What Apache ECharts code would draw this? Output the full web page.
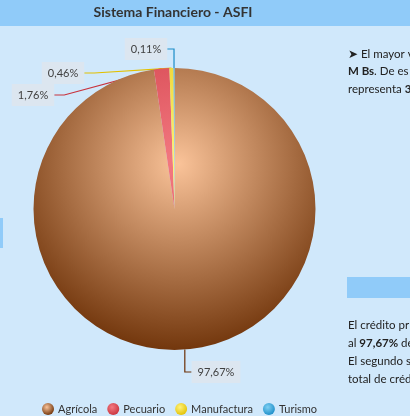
<!DOCTYPE html>
<html>
<head>
<meta charset="utf-8">
<script src="https://cdn.jsdelivr.net/npm/echarts@6/dist/echarts.min.js"></script>
<style>
  html, body { margin: 0; padding: 0; background: #d0e8fb; }
  #chart { width: 410px; height: 416px; }
</style>
</head>
<body>
<div id="chart"></div>
<script>
// Cartera por sector productivo (participación %)
const categories = ['Agrícola', 'Pecuario', 'Manufactura', 'Turismo'];
const shares = [97.67, 1.76, 0.46, 0.11];
const titleText = 'Sistema Financiero - ASFI';

const FONT = 'Lato, "Open Sans", sans-serif';
const CX = 174.5, CY = 209, R = 141;

// radial shading for each slice: [light, dark]
const shades = [
  ['#fac399', '#6c3006'],
  ['#f47a82', '#c8323c'],
  ['#fff27a', '#e2c000'],
  ['#7fd0f2', '#1a8cc8']
];
function sliceFill(i) {
  return {
    type: 'radial', global: true, x: CX + 4, y: CY - 45, r: 195,
    colorStops: [
      { offset: 0, color: shades[i][0] },
      { offset: 1, color: shades[i][1] }
    ]
  };
}
function dotFill(i) {
  return {
    type: 'radial', x: 0.4, y: 0.35, r: 0.7,
    colorStops: [
      { offset: 0, color: shades[i][0] },
      { offset: 1, color: shades[i][1] }
    ]
  };
}

// where each percentage box sits
const labelSpots = [[216, 372], [33, 95], [63, 73], [146, 49]];

const fmt = v => v.toFixed(2).replace('.', ',') + '%';

const chart = echarts.init(document.getElementById('chart'), null, { renderer: 'canvas' });

const sideText = (x, y, rich) => ({
  type: 'text', left: x, top: y, silent: true,
  style: { text: rich, font: '11.5px ' + FONT, fill: '#222', rich: { b: { fontWeight: 'bold', fontSize: 11.5, fontFamily: FONT, fill: '#222' } } }
});

chart.setOption({
  backgroundColor: '#d0e8fb',
  animation: false,
  graphic: [
    { type: 'rect', left: 0, top: 0, shape: { width: 410, height: 26 }, style: { fill: '#90cbf9' }, z: -1 },
    { type: 'rect', left: 347, top: 277, shape: { width: 63, height: 21 }, style: { fill: '#90cbf9' }, z: -1 },
    { type: 'rect', left: 0, top: 218, shape: { width: 3, height: 30 }, style: { fill: '#90cbf9' }, z: -1 },
    sideText(348, 48, '➤ El mayor v'),
    sideText(348, 65, '{b|M Bs}. De es'),
    sideText(348, 83, 'representa {b|3}'),
    sideText(348, 319, 'El crédito pr'),
    sideText(348, 337, 'al {b|97,67%} de'),
    sideText(348, 355, 'El segundo s'),
    sideText(348, 373, 'total de créd')
  ],
  title: {
    text: titleText, left: 173, top: 5, textAlign: 'center', padding: 0,
    textStyle: { fontFamily: FONT, fontSize: 14, fontWeight: 'bold', color: '#333' }
  },
  legend: {
    bottom: 1, left: 42, padding: 0, itemWidth: 12, itemHeight: 12, itemGap: 10,
    icon: 'circle',
    textStyle: { fontFamily: FONT, fontSize: 11, color: '#333', padding: [0, 0, 0, -1] },
    data: categories.map((c, i) => ({ name: c, itemStyle: { color: dotFill(i) } }))
  },
  series: [{
    type: 'pie',
    center: [CX, CY],
    radius: R,
    startAngle: 90,
    clockwise: true,
    avoidLabelOverlap: false,
    data: categories.map((c, i) => ({
      name: c, value: shares[i],
      itemStyle: { color: sliceFill(i) },
      labelLine: { lineStyle: { color: shades[i][1] } }
    })),
    label: {
      formatter: p => fmt(p.value),
      fontFamily: FONT, fontSize: 11, color: '#404040',
      backgroundColor: '#dce6f0', padding: [6, 6, 5, 6]
    },
    labelLine: { show: true, length: 6, length2: 10, lineStyle: { width: 1.2 } },
    labelLayout: p => ({
      x: labelSpots[p.dataIndex][0], y: labelSpots[p.dataIndex][1],
      align: 'center', verticalAlign: 'middle'
    })
  }]
});
</script>
</body>
</html>
